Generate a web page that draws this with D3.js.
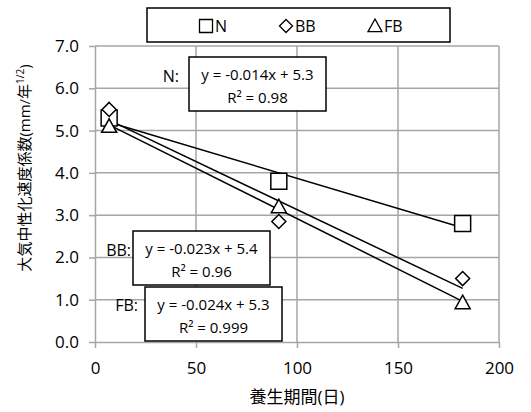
<!DOCTYPE html>
<html lang="ja">
<head>
<meta charset="UTF-8">
<title>大気中性化速度係数</title>
<script src="https://d3js.org/d3.v7.min.js"></script>
<style>
body { margin: 0; background: #fff; }
svg text { font-family: "Open Sans", "Noto Sans CJK JP", sans-serif; fill: #000; }
.grid line { stroke: #a6a6a6; stroke-width: 1.5; }
.axis path, .axis line { stroke: #a6a6a6; stroke-width: 1.5; fill: none; }
.axis text { font-size: 17px; }
</style>
</head>
<body>
<script>
var width = 531, height = 412;

// 数据
var days = [7, 91, 182];
var seriesNames = ["N", "BB", "FB"];
var valuesN = [5.3, 3.8, 2.8];
var valuesBB = [5.5, 2.85, 1.5];
var valuesFB = [5.1, 3.2, 0.93];
var equations = ["y = -0.014x + 5.3", "y = -0.023x + 5.4", "y = -0.024x + 5.3"];
var rSquared = ["R² = 0.98", "R² = 0.96", "R² = 0.999"];
var xTicks = [0, 50, 100, 150, 200];
var yTicks = [0, 1, 2, 3, 4, 5, 6, 7];

var series = [valuesN, valuesBB, valuesFB].map(function(v, i) {
  return { name: seriesNames[i], points: days.map(function(d, j) { return [d, v[j]]; }) };
});

var svg = d3.select("body").append("svg")
  .attr("width", width).attr("height", height);

var x = d3.scaleLinear().domain([0, 200]).range([95, 499]);
var y = d3.scaleLinear().domain([0, 7]).range([342, 46]);

// 网格
svg.append("g").attr("class", "grid")
  .selectAll("line.h").data(yTicks.slice(1)).enter().append("line")
  .attr("x1", x(0)).attr("x2", x(200))
  .attr("y1", function(d) { return y(d); }).attr("y2", function(d) { return y(d); });
svg.append("g").attr("class", "grid")
  .selectAll("line.v").data(xTicks.slice(1)).enter().append("line")
  .attr("y1", y(0)).attr("y2", y(7))
  .attr("x1", function(d) { return x(d); }).attr("x2", function(d) { return x(d); });

// 坐标轴
svg.append("g").attr("class", "axis")
  .attr("transform", "translate(0," + y(0) + ")")
  .call(d3.axisBottom(x).tickValues(xTicks).tickSize(6).tickSizeOuter(0).tickPadding(14));
svg.append("g").attr("class", "axis")
  .attr("transform", "translate(" + x(0) + ",0)")
  .call(d3.axisLeft(y).tickValues(yTicks).tickFormat(d3.format(".1f")).tickSize(6).tickSizeOuter(0).tickPadding(10));

// 趋势线 (最小二乘)
function fit(pts) {
  var mx = d3.mean(pts, function(p) { return p[0]; });
  var my = d3.mean(pts, function(p) { return p[1]; });
  var sxy = d3.sum(pts, function(p) { return (p[0] - mx) * (p[1] - my); });
  var sxx = d3.sum(pts, function(p) { return (p[0] - mx) * (p[0] - mx); });
  var b = sxy / sxx;
  return { b: b, a: my - b * mx };
}
series.forEach(function(s) {
  var f = fit(s.points);
  var x0 = d3.min(days), x1 = d3.max(days);
  svg.append("line")
    .attr("x1", x(x0)).attr("y1", y(f.a + f.b * x0))
    .attr("x2", x(x1)).attr("y2", y(f.a + f.b * x1))
    .attr("stroke", "#000").attr("stroke-width", 1.5);
});

// 标记形状
function markerPath(i, r) {
  if (i === 0) return "M" + (-r) + "," + (-r) + "H" + r + "V" + r + "H" + (-r) + "Z";
  if (i === 1) return "M0," + (-r) + "L" + r + ",0L0," + r + "L" + (-r) + ",0Z";
  return "M0," + (-r) + "L" + r + "," + (r * 0.8) + "H" + (-r) + "Z";
}
var markR = [8, 7, 7.5];
series.forEach(function(s, i) {
  svg.append("g").selectAll("path").data(s.points).enter().append("path")
    .attr("d", markerPath(i, markR[i]))
    .attr("transform", function(p) { return "translate(" + x(p[0]) + "," + y(p[1]) + ")"; })
    .attr("fill", "#fff").attr("stroke", "#000").attr("stroke-width", 1.5);
});

// 图例
svg.append("rect").attr("x", 147).attr("y", 8).attr("width", 303).attr("height", 34)
  .attr("fill", "#fff").attr("stroke", "#000").attr("stroke-width", 1.5);
var legX = [206, 286, 375];
var legR = [6.5, 6.5, 7];
seriesNames.forEach(function(n, i) {
  svg.append("path")
    .attr("d", markerPath(i, legR[i]))
    .attr("transform", "translate(" + legX[i] + ",26)")
    .attr("fill", "#fff").attr("stroke", "#000").attr("stroke-width", 1.3);
  svg.append("text").attr("x", legX[i] + 9).attr("y", 32)
    .attr("font-size", 16).text(n);
});

// 方程标签
var boxes = [
  { x: 189, y: 57, lx: 181, ly: 82 },
  { x: 133, y: 231, lx: 133, ly: 256 },
  { x: 145, y: 287, lx: 140, ly: 311 }
];
boxes.forEach(function(b, i) {
  svg.append("rect").attr("x", b.x).attr("y", b.y).attr("width", 137).attr("height", 54)
    .attr("fill", "#fff").attr("stroke", "#000").attr("stroke-width", 1.5);
  svg.append("text").attr("x", b.x + 68.5).attr("y", b.y + 23)
    .attr("text-anchor", "middle").attr("font-size", 15).text(equations[i]);
  svg.append("text").attr("x", b.x + 68.5).attr("y", b.y + 46)
    .attr("text-anchor", "middle").attr("font-size", 15).text(rSquared[i]);
  svg.append("text").attr("x", b.lx - 2).attr("y", b.ly)
    .attr("text-anchor", "end").attr("font-size", 16).text(seriesNames[i] + ":");
});

// 轴标题
svg.append("text").attr("x", x(100)).attr("y", 403)
  .attr("text-anchor", "middle").attr("font-size", 17).text("養生期間(日)");
var yt = svg.append("text").attr("transform", "translate(30,168) rotate(-90)")
  .attr("text-anchor", "middle").attr("font-size", 15);
yt.append("tspan").text("大気中性化速度係数(mm/年");
yt.append("tspan").attr("dy", -6).attr("font-size", 10).text("1/2");
yt.append("tspan").attr("dy", 6).text(")");
</script>
</body>
</html>
